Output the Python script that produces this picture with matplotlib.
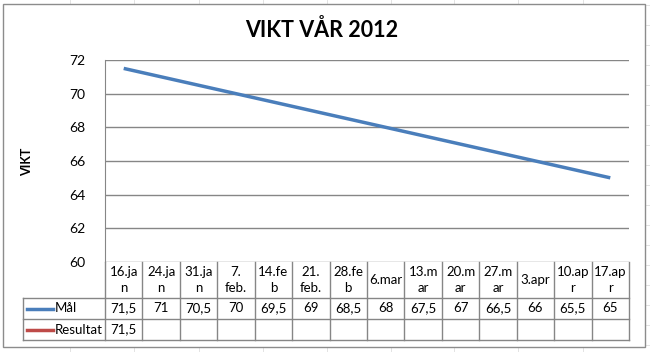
import numpy as np
import matplotlib
matplotlib.use("Agg")
import matplotlib.pyplot as plt
from matplotlib.lines import Line2D
from matplotlib.patches import Rectangle

plt.rcParams["font.family"] = ["Lato", "DejaVu Sans"]

TITLE = "VIKT VÅR 2012"
Y_LABEL = "VIKT"
categories = ["16.ja\nn", "24.ja\nn", "31.ja\nn", "7.\nfeb.", "14.fe\nb", "21.\nfeb.",
              "28.fe\nb", "6.mar", "13.m\nar", "20.m\nar", "27.m\nar", "3.apr",
              "10.ap\nr", "17.ap\nr"]
mal = [71.5, 71, 70.5, 70, 69.5, 69, 68.5, 68, 67.5, 67, 66.5, 66, 65.5, 65]
resultat = [71.5]
series_names = ["Mål", "Resultat"]
y_ticks = [60, 62, 64, 66, 68, 70, 72]

MAL_COLOR = '#4a7ebb'
RES_COLOR = '#be4b48'
GRID_COLOR = '#868686'
W, H = 650, 352
FS = 9.5


def fx(px):
    return px / W


def fy(py):
    return 1 - py / H


def fmt(v):
    return f"{v:g}".replace('.', ',')


fig = plt.figure(figsize=(W / 100, H / 100), dpi=100)
fig.patch.set_facecolor('white')

# faint spreadsheet grid behind the chart
for x in [70, 134, 199, 263, 327, 391, 454, 518, 583]:
    fig.add_artist(Line2D([fx(x), fx(x)], [0, 1], color='#e3e3e3', lw=0.7, zorder=-3))
for y in range(5, H, 20):
    fig.add_artist(Line2D([fx(646), 1], [fy(y), fy(y)], color='#e3e3e3', lw=0.7, zorder=-3))

# chart frame
fig.add_artist(Rectangle((fx(3), fy(347)), fx(642), 343 / H, facecolor='white',
                         edgecolor='#8c8c8c', lw=1.0, transform=fig.transFigure, zorder=-2))

# plot area
left, right, top, bottom = 105, 629, 60, 262
ax = fig.add_axes([fx(left), fy(bottom), fx(right - left), (bottom - top) / H])
ax.set_facecolor('none')
n = len(categories)
x = np.arange(n)
ax.set_xlim(-0.5, n - 0.5)
ax.set_ylim(y_ticks[0], y_ticks[-1])
ax.set_yticks(y_ticks)
ax.set_yticklabels([str(t) for t in y_ticks], fontsize=10)
ax.tick_params(axis='y', length=0, pad=14)
ax.set_xticks([])
ax.grid(True, axis='y', color=GRID_COLOR, lw=1.0)
for s in ['top', 'right', 'bottom']:
    ax.spines[s].set_visible(False)
ax.spines['left'].set_color(GRID_COLOR)
ax.set_axisbelow(True)

ax.plot(x, mal, color=MAL_COLOR, lw=2.5, solid_capstyle='butt')
ax.plot(x[:len(resultat)], resultat, color=RES_COLOR, lw=2.5)

fig.text(fx(27), fy(162), Y_LABEL, fontsize=9, fontweight='bold', rotation=90,
         ha='center', va='center')
fig.text(fx(322), fy(30), TITLE, fontsize=15.5, fontweight='bold', ha='center', va='center')

# data table under the plot
ph = bottom - top
row_edges = [0, -(298 - bottom) / ph, -(319 - bottom) / ph, -(340 - bottom) / ph]
xt = ax.get_xaxis_transform()
key_left = (23 - left) / (right - left)
tl = dict(color=GRID_COLOR, lw=1.0, clip_on=False)

for k in range(n + 1):
    ax.add_line(Line2D([k - 0.5, k - 0.5], [row_edges[0], row_edges[-1]], transform=xt, **tl))
ax.add_line(Line2D([key_left, key_left], [row_edges[1], row_edges[-1]], transform=ax.transAxes, **tl))
for r in row_edges[1:]:
    ax.add_line(Line2D([key_left, 1], [r, r], transform=ax.transAxes, **tl))

hy = (row_edges[0] + row_edges[1]) / 2
for k, lab in enumerate(categories):
    ax.text(k, hy, lab, transform=xt, ha='center', va='center', fontsize=FS,
            linespacing=1.3)

for i, (name, vals, col) in enumerate([(series_names[0], mal, MAL_COLOR),
                                       (series_names[1], resultat, RES_COLOR)]):
    cy = (row_edges[i + 1] + row_edges[i + 2]) / 2
    for k, v in enumerate(vals):
        ax.text(k, cy, fmt(v), transform=xt, ha='center', va='center', fontsize=FS)
    ax.add_line(Line2D([(27 - left) / (right - left), (53 - left) / (right - left)], [cy, cy],
                       transform=ax.transAxes, color=col, lw=2.5, clip_on=False))
    ax.text((55 - left) / (right - left), cy, name, transform=ax.transAxes,
            ha='left', va='center', fontsize=FS)

fig.savefig('out.png', dpi=100, facecolor='white')
